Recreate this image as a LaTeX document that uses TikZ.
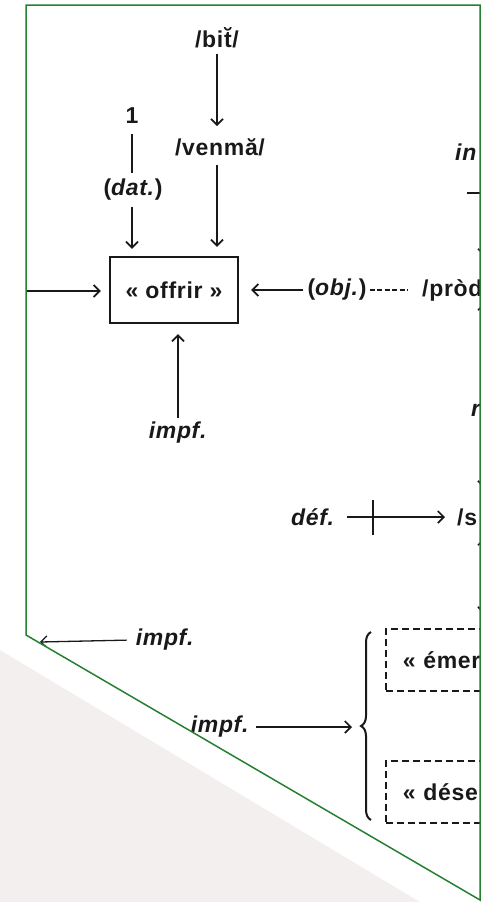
\documentclass[tikz,border=0pt]{standalone}
\usepackage{fontspec}
\setmainfont{Liberation Sans}[LetterSpace=3]
\usetikzlibrary{arrows.meta,decorations.pathreplacing}
\definecolor{frameGreen}{RGB}{38,128,48}
\definecolor{shadowGray}{RGB}{242,239,238}
\definecolor{ink}{RGB}{25,25,25}
\begin{document}
\begin{tikzpicture}[x=1pt,y=-1pt, color=ink,
  txt/.style={font=\fontsize{23}{27}\selectfont\bfseries},
  lbl/.style={txt, inner sep=3pt},
  frag/.style={txt, inner sep=0pt, anchor=west},
  ln/.style={line width=1.7pt},
  arr/.style={line width=1.7pt, -{Straight Barb[length=6pt,width=12pt,line width=1.7pt]}},
  thinarr/.style={line width=1.3pt, -{Straight Barb[length=6pt,width=12pt,line width=1.3pt]}},
  mainbox/.style={draw, txt, line width=2.3pt, minimum width=128pt, minimum height=66pt, inner sep=0pt},
  dbox/.style={draw, txt, line width=1.7pt, dash pattern=on 7pt off 4pt, anchor=north west, text width=150pt, minimum height=62pt, inner xsep=17pt, align=left},
]
\useasboundingbox (0,0) rectangle (482,902);
\fill[shadowGray] (0,650) -- (420,902) -- (0,902) -- cycle;
\begin{scope}
\clip (26,5) -- (480,5) -- (480,900) -- (26,635) -- cycle;
% top column
\node[lbl] (bit) at (217,38) {/bi\u{t}/};
\node[lbl] (venma) at (220,147) {/venmă/};
\node[lbl] (one) at (132,116) {1};
\node[lbl] (dat) at (133,190) {(\textit{dat.})};
\node[mainbox] (offrir) at (174,290) {« offrir »};
\draw[arr, shorten <=2pt, shorten >=9pt] (bit.south) -- (bit.south |- venma.north);
\draw[arr, shorten <=6pt, shorten >=9pt] (bit.south |- venma.south) -- (bit.south |- offrir.north);
\draw[ln, shorten <=7pt, shorten >=3pt] (one.south) -- (one.south |- dat.north);
\draw[arr, shorten <=3pt, shorten >=7pt] (one.south |- dat.south) -- (one.south |- offrir.north);
% left input
\coordinate (leftin) at (0,291);
\draw[arr, shorten >=8pt] (leftin) -- (leftin -| offrir.west);
% object
\node[lbl] (obj) at (337,290) {(\textit{obj.})};
\node[frag] (prod) at (422,290) {/pròd};
\draw[arr, shorten <=1pt, shorten >=12pt] (obj.west) -- (obj.west -| offrir.east);
\draw[line width=1.4pt, dash pattern=on 5pt off 2.5pt, shorten >=14pt] (obj.east) -- (prod.west);
% impf below box
\node[lbl] (impfa) at (178,433) {\textit{impf.}};
\draw[arr, shorten <=1pt, shorten >=10pt] (impfa.north) -- (impfa.north |- offrir.south);
% def
\node[lbl] (def) at (313,517) {\textit{déf.}};
\node[frag] (s) at (457,517) {/s};
\draw[arr, shorten <=9pt, shorten >=12pt] (def.east) -- (s.west);
\coordinate (tick) at (373,517);
\draw[ln] ([yshift=17pt]tick) -- ([yshift=-18pt]tick);
% right edge fragments
\node[frag] (ina) at (455,152) {\textit{in}};
\node[frag] (ra) at (471,410) {\textit{r}};
\coordinate (rAs) at (484,165);
\coordinate (rAe) at (484,256);
\draw[arr] (rAs) -- (rAe);
\coordinate (tickR) at (484,193);
\draw[line width=1.4pt] ([xshift=-17pt]tickR) -- ([xshift=17pt]tickR);
\coordinate (rBs) at (484,400);
\coordinate (rBe) at (484,303);
\draw[arr] (rBs) -- (rBe);
\coordinate (rCs) at (484,425);
\coordinate (rCe) at (484,488);
\draw[arr] (rCs) -- (rCe);
\coordinate (rDs) at (484,575);
\coordinate (rDe) at (484,538);
\draw[arr] (rDs) -- (rDe);
\coordinate (rEe) at (484,614);
\draw[arr] (rDs) -- (rEe);
% lower left
\node[lbl] (impfb) at (165,640) {\textit{impf.}};
\coordinate (leftout) at (40,642);
\draw[thinarr, shorten <=6pt] (impfb.west) -- (leftout);
\node[lbl] (impfc) at (220,727) {\textit{impf.}};
\coordinate (bracetip) at (360,727);
\draw[arr, shorten <=4pt, shorten >=8pt] (impfc.east) -- (bracetip);
\coordinate (braceTop) at (371,632);
\coordinate (braceBot) at (371,820);
\draw[line width=2pt, decorate, decoration={brace, amplitude=10pt}] (braceBot) -- (braceTop);
\node[dbox] (emer) at (385,628) {« émer};
\node[dbox] (dese) at (385,760) {« dése};
\end{scope}
\draw[frameGreen, line width=1.5pt] (26,5) -- (480,5) -- (480,900) -- (26,635) -- cycle;
\end{tikzpicture}
\end{document}
